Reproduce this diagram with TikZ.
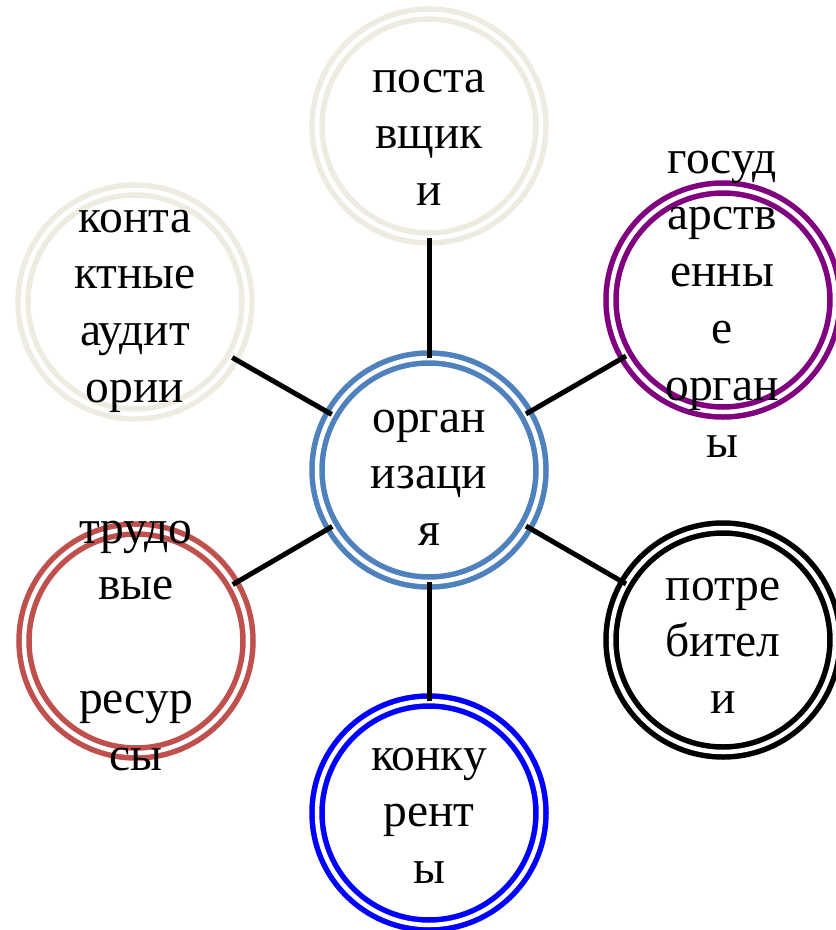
\documentclass[tikz,border=0pt]{standalone}
\usepackage{fontspec}
\setmainfont{Liberation Serif}
\definecolor{ringbeige}{HTML}{EEECE1}
\definecolor{ringpurple}{HTML}{800080}
\definecolor{ringsteel}{HTML}{4F81BD}
\definecolor{ringred}{HTML}{C0504D}
\definecolor{ringblue}{HTML}{0000FF}
\begin{document}
\begin{tikzpicture}[x=1pt,y=-1pt,
  ring/.style={circle, draw=#1, line width=5.5pt, double=white, double distance=4.5pt,
    minimum size=224pt, inner sep=0pt, outer sep=0pt},
  conn/.style={draw=black, line width=5pt},
  lbl/.style={anchor=base, inner sep=0pt, outer sep=0pt}]
\useasboundingbox (0,0) rectangle (836,930);
\fill[white] (0,0) rectangle (836,930);
% circles
\node[ring=ringsteel]  (org)  at (429,470) {};
\node[ring=ringbeige]  (sup)  at (429,126) {};
\node[ring=ringpurple] (gov)  at (723,300) {};
\node[ring=ringbeige]  (aud)  at (135,302) {};
\node[ring=ringred]    (lab)  at (136,641) {};
\node[ring=ringblue]   (comp) at (429,813) {};
\node[ring=black]      (cons) at (723,640) {};
% connectors
\draw[conn] (org) -- (sup);
\draw[conn] (org) -- (gov);
\draw[conn] (org) -- (aud);
\draw[conn] (org) -- (lab);
\draw[conn] (org) -- (comp);
\draw[conn] (org) -- (cons);
% labels
\newcommand{\stk}[1]{\fontsize{47.5}{56.8}\selectfont\renewcommand{\arraystretch}{1}\setlength{\tabcolsep}{0pt}\begin{tabular}[t]{c}#1\end{tabular}}
\node[lbl] (torg)  at (429,432) {\stk{орган\\изаци\\я}};
\node[lbl] (tsup)  at (429,92)  {\stk{поста\\вщик\\и}};
\node[lbl] (tgov)  at (722,173) {\stk{госуд\\арств\\енны\\е\\орган\\ы}};
\node[lbl] (taud)  at (135,232) {\stk{конта\\ктные\\аудит\\ории}};
\node[lbl] (tlab)  at (136,543) {\stk{трудо\\вые\\ \\ресур\\сы}};
\node[lbl] (tcons) at (723,600) {\stk{потре\\бител\\и}};
\node[lbl] (tcomp) at (429,770) {\stk{конку\\рент\\ы}};
\end{tikzpicture}
\end{document}
